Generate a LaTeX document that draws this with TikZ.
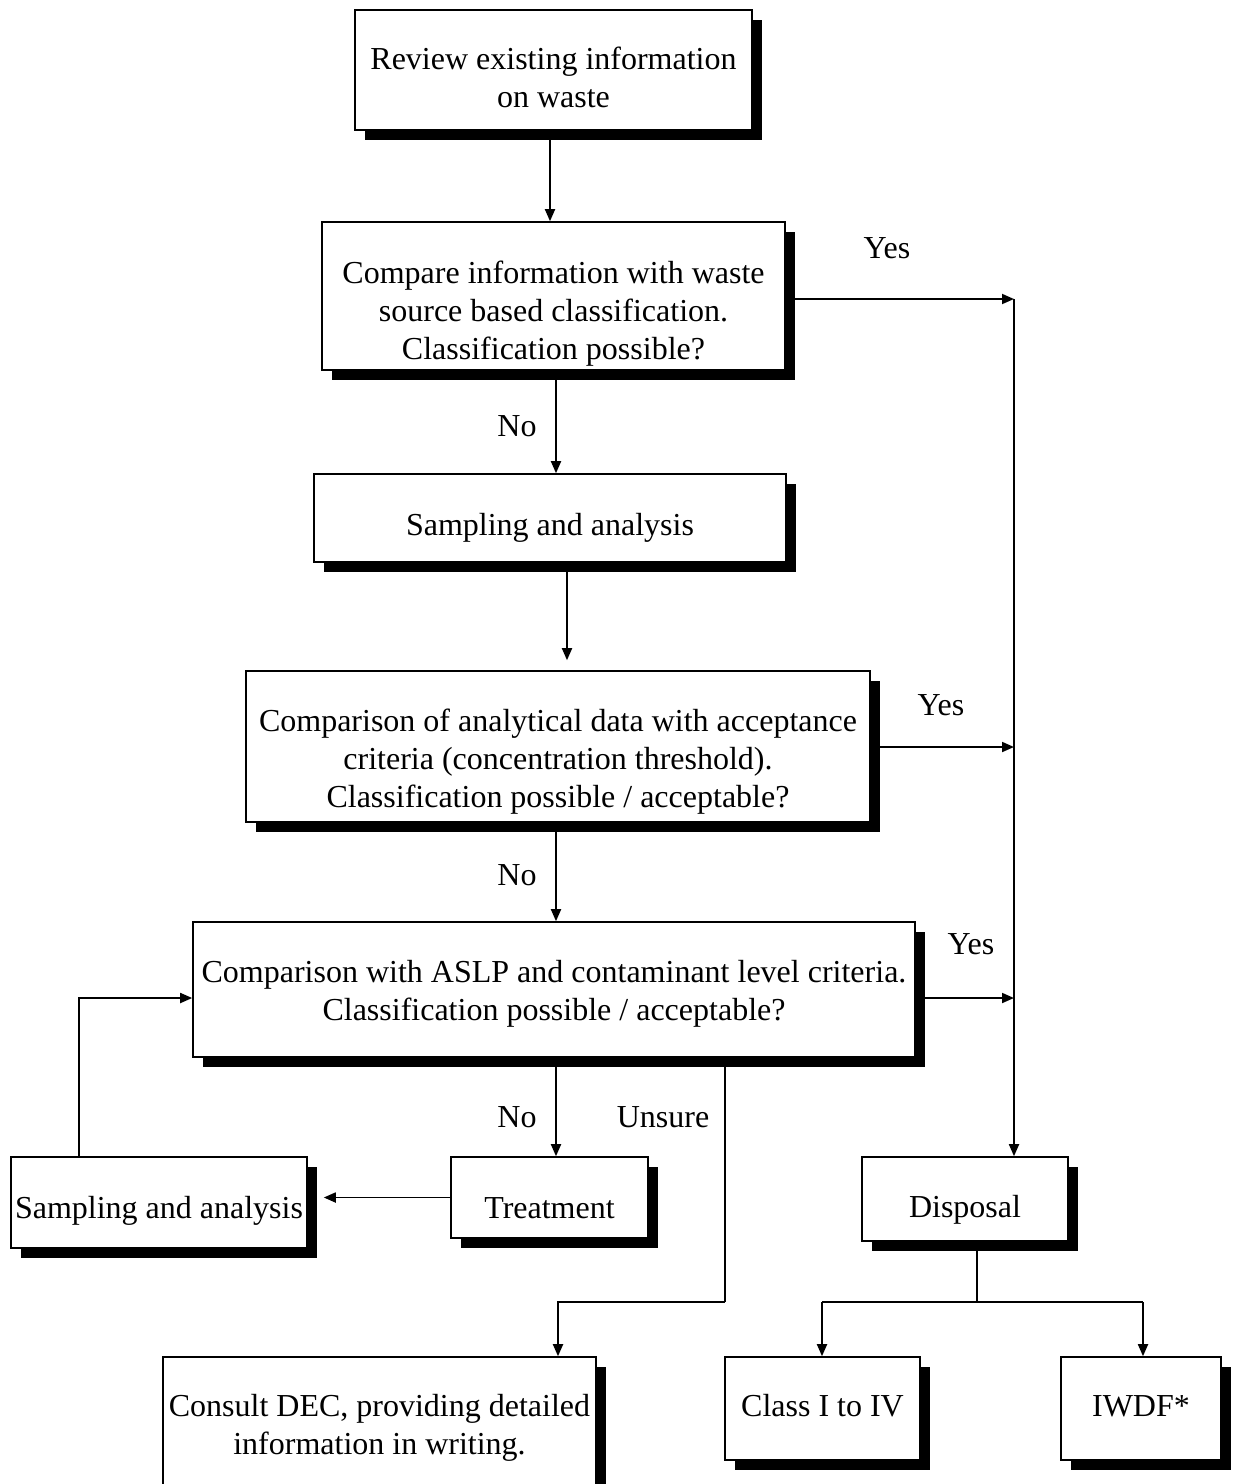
\documentclass[tikz,border=0pt]{standalone}
\usepackage{fontspec}
\setmainfont{Liberation Serif}
\usetikzlibrary{arrows.meta,shadows}
\newcommand{\topstrut}[1]{\rule{0pt}{#1}}
\newcommand{\botstrut}[1]{\rule[-#1]{0pt}{0pt}}
\begin{document}
\begin{tikzpicture}[x=0.5pt,y=-0.5pt,
  box/.style={draw, line width=0.8pt, fill=white, align=center, inner sep=0pt,
    font=\fontsize{16}{19}\selectfont,
    drop shadow={shadow xshift=5pt, shadow yshift=-5pt, fill=black, opacity=1}},
  lbl/.style={font=\fontsize{16}{19}\selectfont, inner sep=0pt},
  arr/.style={line width=0.9pt, -{Triangle[length=6pt,width=5pt]}},
  ln/.style={line width=0.9pt}]
\useasboundingbox (0,0) rectangle (1234,1484);
\clip (0,0) rectangle (1234,1484);

% helper coordinates
\coordinate (x550) at (550,0);
\coordinate (x556) at (556,0);
\coordinate (x558) at (558,0);
\coordinate (x567) at (567,0);
\coordinate (x79) at (79,0);
\coordinate (x725) at (725,0);
\coordinate (x977) at (977,0);
\coordinate (x1014) at (1014,0);
\coordinate (y299) at (0,299);
\coordinate (y747) at (0,747);
\coordinate (y998) at (0,998);
\coordinate (j1) at (1014,299);
\coordinate (j2) at (1014,747);
\coordinate (j3) at (1014,998);
\coordinate (u1) at (725,1302);
\coordinate (d1) at (977,1302);
\coordinate (d2) at (822,1302);
\coordinate (d3) at (1143,1302);

% nodes
\node[box, minimum width=198.5pt, minimum height=60pt] (review) at (553.5,70)
  {\topstrut{19pt}Review existing information\\on waste};
\node[box, minimum width=231.5pt, minimum height=74pt] (compare) at (553.5,296)
  {\topstrut{29pt}Compare information with waste\\source based classification.\\Classification possible?};
\node[box, minimum width=236pt, minimum height=44pt] (samp1) at (550,518)
  {\topstrut{21pt}Sampling and analysis};
\node[box, minimum width=312pt, minimum height=75.5pt] (comp2) at (558,746.5)
  {\topstrut{26pt}Comparison of analytical data with acceptance\\criteria (concentration threshold).\\Classification possible / acceptable?};
\node[box, minimum width=361pt, minimum height=67.5pt] (aslp) at (554,989.5)
  {\topstrut{15pt}Comparison with ASLP and contaminant level criteria.\\Classification possible / acceptable?};
\node[box, minimum width=148pt, minimum height=45.5pt] (samp2) at (159,1202.5)
  {\topstrut{19pt}Sampling and analysis};
\node[box, minimum width=98.5pt, minimum height=40.5pt] (treat) at (549.5,1197.5)
  {\topstrut{21pt}Treatment};
\node[box, minimum width=103pt, minimum height=42pt] (disp) at (965,1199)
  {\topstrut{22pt}Disposal};
\node[box, minimum width=216.5pt, minimum height=68pt] (consult) at (379.5,1425)
  {\topstrut{14pt}Consult DEC, providing detailed\\information in writing.};
\node[box, minimum width=97.5pt, minimum height=51.5pt] (class) at (822.5,1408.5)
  {Class I to IV\botstrut{3pt}};
\node[box, minimum width=80pt, minimum height=51.5pt] (iwdf) at (1141,1408.5)
  {IWDF*\botstrut{2pt}};

% connectors
\draw[arr] (review.south -| x550) -- (compare.north -| x550);
\draw[arr] (compare.south -| x556) -- (samp1.north -| x556);
\draw[arr, shorten >=5pt] (samp1.south -| x567) -- (comp2.north -| x567);
\draw[arr] (comp2.south -| x556) -- (aslp.north -| x556);
\draw[arr] (aslp.south -| x556) -- (treat.north -| x556);
\draw[arr, shorten >=8pt] (treat.west) -- (samp2.east |- treat.west);
\draw[arr] (samp2.north -| x79) |- (aslp.west |- y998);

\draw[arr] (compare.east |- y299) -- (j1);
\draw[arr] (comp2.east |- y747) -- (j2);
\draw[arr] (aslp.east |- y998) -- (j3);
\draw[arr] (j1) -- (disp.north -| x1014);

\draw[ln] (aslp.south -| x725) -- (u1);
\draw[arr] (u1) -| (consult.north -| x558);

\draw[ln] (disp.south -| x977) -- (d1);
\draw[ln] (d2) -- (d3);
\draw[arr] (d2) -- (class.north -| d2);
\draw[arr] (d3) -- (iwdf.north -| d3);

% labels
\node[lbl] (yes1) at (887,248) {Yes};
\node[lbl] (yes2) at (941,705) {Yes};
\node[lbl] (yes3) at (971,944) {Yes};
\node[lbl] (no1) at (517,426) {No};
\node[lbl] (no2) at (517,875) {No};
\node[lbl] (no3) at (517,1117) {No};
\node[lbl] (unsure) at (663,1117) {Unsure};
\end{tikzpicture}
\end{document}
